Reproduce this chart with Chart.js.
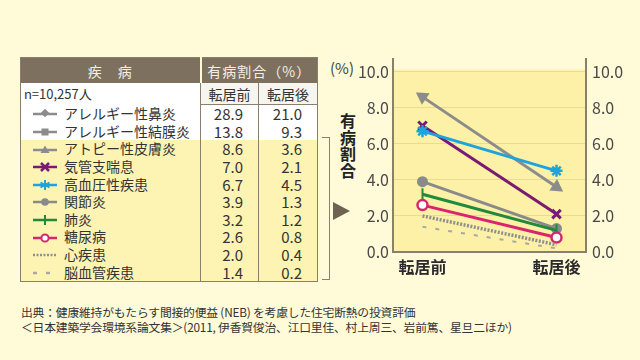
<!DOCTYPE html>
<html lang="ja">
<head>
<meta charset="utf-8">
<script src="https://cdn.jsdelivr.net/npm/chart.js@4.4.1/dist/chart.umd.min.js"></script>
<style>
html, body { margin: 0; padding: 0; }
body {
    width: 640px; height: 360px; overflow: hidden; position: relative;
    background: #fffad8; color: #333;
    font-family: "Noto Sans CJK JP", "Noto Sans", sans-serif;
}
#tbl {
    position: absolute; left: 20px; top: 57px; width: 297px;
    border-collapse: collapse; table-layout: fixed;
    border: 1px solid #8a7f6b;
}
#tbl th {
    background: #7d705e; color: #f4efe4; font-weight: normal;
    font-size: 14px; height: 25px; padding: 0; letter-spacing: 1px;
}
#tbl th + th { border-left: 2px solid #fffad8; }
#tbl td { padding: 0; white-space: nowrap; }
#tbl tr.sub td { background: #fff; height: 21px; font-size: 13px; }
#tbl tr.sub td.h { text-align: center; font-size: 14px; border-left: 1px solid #8a7f6b; border-bottom: 1px solid #8a7f6b; background: #f7f5f0; }
#tbl tr.row td { height: 17.6px; line-height: 17px; font-size: 14px; }
#tbl tr.row td.v { text-align: right; padding-right: 15px; font-size: 15px; border-left: 1px solid #8a7f6b; }
#tbl tr.row.hl td { background: #fdf3b2; }
#tbl tr.row.wh td { background: #fff; }
#tbl svg { vertical-align: middle; margin: 0 6px 0 11px; position: relative; top: -1px; }
#wrap { position: absolute; left: 320px; top: 50px; width: 320px; height: 240px; }
.lbl { position: absolute; white-space: nowrap; }
#pct { left: 330px; top: 57px; font-size: 15px; color: #444; }
#vlab { left: 340px; top: 112px; width: 17px; font-size: 16px; line-height: 16.5px; font-weight: bold; color: #222; }
#bracket { position: absolute; left: 322px; top: 137px; width: 7px; height: 141px; border: 1.5px solid #8a7f6b; border-left: none; }
#arrow { position: absolute; left: 333px; top: 202px; width: 0; height: 0;
    border-top: 9px solid transparent; border-bottom: 9px solid transparent; border-left: 17px solid #6e6352; }
#note { left: 21px; top: 305px; font-size: 11.8px; line-height: 14.5px; color: #333; letter-spacing: -0.2px; }
</style>
</head>
<body>
<table id="tbl">
    <colgroup><col style="width:180px"><col style="width:58px"><col style="width:59px"></colgroup>
    <thead>
        <tr><th>疾　病</th><th colspan="2">有病割合（%）</th></tr>
        <tr class="sub"><td>&nbsp;n=10,257人</td><td class="h">転居前</td><td class="h">転居後</td></tr>
    </thead>
    <tbody id="rows"></tbody>
</table>
<div class="lbl" id="pct">(%)</div>
<div class="lbl" id="vlab">有<br>病<br>割<br>合</div>
<div id="bracket"></div>
<div id="arrow"></div>
<div id="wrap"><canvas id="chart"></canvas></div>
<div class="lbl" id="note">出典：健康維持がもたらす間接的便益 (NEB) を考慮した住宅断熱の投資評価<br>＜日本建築学会環境系論文集＞(2011, 伊香賀俊治、江口里佳、村上周三、岩前篤、星旦二ほか)</div>
<script>
const diseases = ['アレルギー性鼻炎', 'アレルギー性結膜炎', 'アトピー性皮膚炎', '気管支喘息', '高血圧性疾患',
    '関節炎', '肺炎', '糖尿病', '心疾患', '脳血管疾患'];
const beforeMove = [28.9, 13.8, 8.6, 7.0, 6.7, 3.9, 3.2, 2.6, 2.0, 1.4];
const afterMove = [21.0, 9.3, 3.6, 2.1, 4.5, 1.3, 1.2, 0.8, 0.4, 0.2];
const periods = ['転居前', '転居後'];
const yTicks = [0, 2, 4, 6, 8, 10];
const firstPlotted = 2; // the two allergy rows are off the scale

// line styles per disease
const styles = [
    { color: '#8c8c8c', point: 'rectRot' },
    { color: '#8c8c8c', point: 'rect' },
    { color: '#8c8c8c', point: 'triangle' },
    { color: '#7b1a72', point: 'crossRot' },
    { color: '#1ea3da', point: 'star' },
    { color: '#8a8a8a', point: 'circle' },
    { color: '#1f8a3b', point: 'line' },
    { color: '#d8266e', point: 'circle', open: true },
    { color: '#8f8f8f', dash: [2, 1.5] },
    { color: '#a8a8a8', dash: [4, 9] }
];

function legendIcon(s) {
    let line = `<line x1="1" y1="6" x2="25" y2="6" stroke="${s.color}" stroke-width="2.5"` +
        (s.dash ? ` stroke-dasharray="${s.dash.join(' ')}"` : '') + '/>';
    let m = '';
    const c = s.color;
    if (s.point === 'rectRot') m = `<rect x="10" y="2" width="6" height="6" fill="${c}" transform="rotate(45 13 5)"/>`;
    if (s.point === 'rect') m = `<rect x="9.5" y="2.5" width="7" height="7" fill="${c}"/>`;
    if (s.point === 'triangle') m = `<polygon points="13,1.5 17.5,9 8.5,9" fill="${c}"/>`;
    if (s.point === 'crossRot') m = `<path d="M9 2 L17 10 M17 2 L9 10" stroke="${c}" stroke-width="2.5"/>`;
    if (s.point === 'star') m = `<path d="M13 1 V11 M8.5 3.5 L17.5 8.5 M17.5 3.5 L8.5 8.5" stroke="${c}" stroke-width="2"/>`;
    if (s.point === 'circle' && !s.open) m = `<circle cx="13" cy="6" r="3.8" fill="${c}"/>`;
    if (s.point === 'circle' && s.open) m = `<circle cx="13" cy="6" r="3.6" fill="#fff" stroke="${c}" stroke-width="2"/>`;
    if (s.point === 'line') m = `<path d="M13 1 V11" stroke="${c}" stroke-width="2"/>`;
    return `<svg width="26" height="12">${line}${m}</svg>`;
}

const tbody = document.getElementById('rows');
diseases.forEach((name, i) => {
    const tr = document.createElement('tr');
    tr.className = 'row ' + (i < firstPlotted ? 'wh' : 'hl');
    tr.innerHTML = `<td>${legendIcon(styles[i])}${name}</td>` +
        `<td class="v">${beforeMove[i].toFixed(1)}</td><td class="v">${afterMove[i].toFixed(1)}</td>`;
    tbody.appendChild(tr);
});

// yellow plot area, starting just above the 10.0 line
const plotBg = {
    id: 'plotBg',
    beforeDraw(chart) {
        const { ctx, chartArea: a } = chart;
        const top = chart.scales.y.getPixelForValue(10.12);
        ctx.save();
        ctx.fillStyle = '#fcf1a6';
        ctx.fillRect(a.left, top, a.right - a.left, a.bottom - top);
        ctx.restore();
    }
};

const datasets = [];
for (let i = diseases.length - 1; i >= firstPlotted; i--) {
    const s = styles[i];
    const ds = {
        label: diseases[i],
        data: [{ x: 0, y: beforeMove[i] }, { x: 1, y: afterMove[i] }],
        borderColor: s.color,
        backgroundColor: s.color,
        borderWidth: 3,
        pointStyle: s.point || false,
        pointRadius: s.point ? 5 : 0,
        pointBorderWidth: 2,
        pointBorderColor: s.color,
        pointBackgroundColor: s.open ? '#fff' : s.color
    };
    if (s.dash) {
        ds.borderDash = s.dash;
        ds.borderWidth = s.dash[0] > 3 ? 2 : 3.5;
    }
    if (s.point === 'triangle') { ds.pointRotation = [-56, 124]; ds.pointRadius = 6; }
    if (s.point === 'crossRot') { ds.pointRadius = 6; ds.pointBorderWidth = 3; }
    if (s.point === 'star') { ds.pointRadius = 6; ds.pointBorderWidth = 2.5; }
    if (s.point === 'line') { ds.pointRotation = 90; ds.pointRadius = 6; ds.pointBorderWidth = 2; }
    if (s.point === 'circle' && !s.open) ds.pointRadius = 4.5;
    if (s.open) { ds.pointRadius = 5; ds.pointBorderWidth = 2.5; }
    datasets.push(ds);
}

const tickFont = { family: '"Noto Sans CJK JP", sans-serif', size: 16 };
const onlyEven = (scale) => { scale.ticks = yTicks.map(v => ({ value: v })); };
const fixWidth = (w) => (scale) => { scale.width = w; scale.paddingTop = 0; scale.paddingBottom = 0; };

new Chart(document.getElementById('chart'), {
    type: 'line',
    data: { datasets: datasets },
    options: {
        responsive: true,
        maintainAspectRatio: false,
        animation: false,
        layout: { padding: { top: 5, left: 0, right: 0, bottom: 0 } },
        plugins: { legend: { display: false }, tooltip: { enabled: false } },
        scales: {
            x: {
                type: 'linear', min: -0.22, max: 1.22,
                afterBuildTicks: (scale) => { scale.ticks = [{ value: 0 }, { value: 1 }]; },
                afterFit: (scale) => { scale.height = 38; scale.paddingLeft = 0; scale.paddingRight = 0; },
                grid: { display: false, drawTicks: false },
                border: { display: true, color: '#8a7f6b', width: 2 },
                ticks: {
                    padding: 5, color: '#2a2a2a',
                    font: { family: tickFont.family, size: 16, weight: 'bold' },
                    callback: (v) => periods[v]
                }
            },
            y: {
                position: 'left', min: 0, max: 10.7,
                afterBuildTicks: onlyEven,
                afterFit: fixWidth(73),
                grid: { color: '#e9dc92', lineWidth: 1, drawTicks: false },
                border: { display: true, color: '#8a7f6b', width: 2 },
                ticks: { padding: 4, color: '#4a4a4a', font: tickFont, callback: (v) => v.toFixed(1) }
            },
            y2: {
                position: 'right', min: 0, max: 10.7,
                afterBuildTicks: onlyEven,
                afterFit: fixWidth(54),
                grid: { display: false, drawTicks: false },
                border: { display: true, color: '#8a7f6b', width: 2 },
                ticks: { padding: 6, color: '#4a4a4a', font: tickFont, callback: (v) => v.toFixed(1) }
            }
        }
    },
    plugins: [plotBg]
});
</script>
</body>
</html>
